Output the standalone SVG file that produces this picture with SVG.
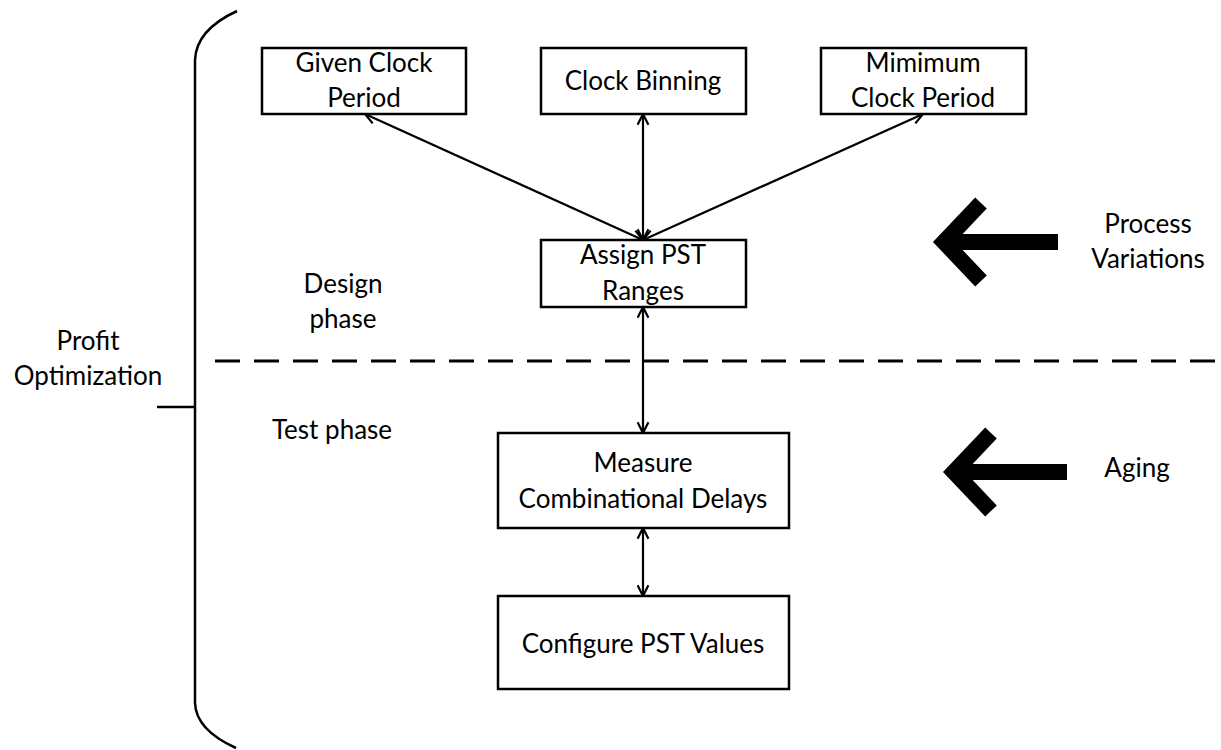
<svg xmlns="http://www.w3.org/2000/svg" width="1221" height="750" viewBox="0 0 1221 750">
<style>
text{font-family:Lato,"Open Sans","Liberation Sans",sans-serif;font-size:26px;fill:#000;text-anchor:middle}
.box{fill:#fff;stroke:#000;stroke-width:2.5}
.conn{stroke:#000;stroke-width:2.2;fill:none;marker-start:url(#ah);marker-end:url(#ah)}
.big{stroke:#000;stroke-width:16;fill:none;stroke-linejoin:miter}
</style>
<defs>
<marker id="ah" viewBox="0 0 12 12" refX="11" refY="6" markerWidth="13" markerHeight="13" markerUnits="userSpaceOnUse" orient="auto-start-reverse">
<path d="M1,1 L11,6 L1,11" fill="none" stroke="#000" stroke-width="2"/>
</marker>
</defs>
<g id="bracket" fill="none" stroke="#000" stroke-width="2.5">
<path d="M237,11 Q196,30 195,60 L195,703 Q196,730 236,748"/>
<line x1="157" y1="407" x2="195" y2="407"/>
</g>
<line id="divider" x1="215" y1="361" x2="1221" y2="361" stroke="#000" stroke-width="3" stroke-dasharray="25 14"/>
<g id="connectors">
<line class="conn" x1="643" y1="240" x2="365" y2="114"/>
<line class="conn" x1="643" y1="240" x2="643" y2="114"/>
<line class="conn" x1="643" y1="240" x2="923" y2="114"/>
<line class="conn" x1="643" y1="307" x2="643" y2="433"/>
<line class="conn" x1="643" y1="528" x2="643" y2="596"/>
</g>
<g id="given">
<rect class="box" x="262" y="48" width="204" height="66"/>
<text x="364" y="72">Given Clock</text><text x="364" y="107">Period</text>
</g>
<g id="binning">
<rect class="box" x="541" y="48" width="205" height="66"/>
<text x="643" y="90">Clock Binning</text>
</g>
<g id="minimum">
<rect class="box" x="821" y="48" width="205" height="66"/>
<text x="923" y="72">Mimimum</text><text x="923" y="107">Clock Period</text>
</g>
<g id="assign">
<rect class="box" x="541" y="240" width="205" height="67"/>
<text x="643" y="264">Assign PST</text><text x="643" y="300">Ranges</text>
</g>
<g id="measure">
<rect class="box" x="498" y="433" width="291" height="95"/>
<text x="643" y="472">Measure</text><text x="643" y="508">Combinational Delays</text>
</g>
<g id="configure">
<rect class="box" x="498" y="596" width="291" height="93"/>
<text x="643" y="653">Configure PST Values</text>
</g>
<g id="labels">
<text x="343" y="293">Design</text><text x="343" y="328">phase</text>
<text x="332" y="439">Test phase</text>
<text x="88" y="350">Profit</text><text x="88" y="385">Optimization</text>
</g>
<g id="process">
<polyline class="big" points="981,203 944,242 981,281"/>
<line class="big" x1="944" y1="242" x2="1058" y2="242"/>
<text x="1148" y="233">Process</text><text x="1148" y="268">Variations</text>
</g>
<g id="aging">
<polyline class="big" points="991,433 954,472 991,511"/>
<line class="big" x1="954" y1="472" x2="1067" y2="472"/>
<text x="1137" y="477">Aging</text>
</g>
</svg>
